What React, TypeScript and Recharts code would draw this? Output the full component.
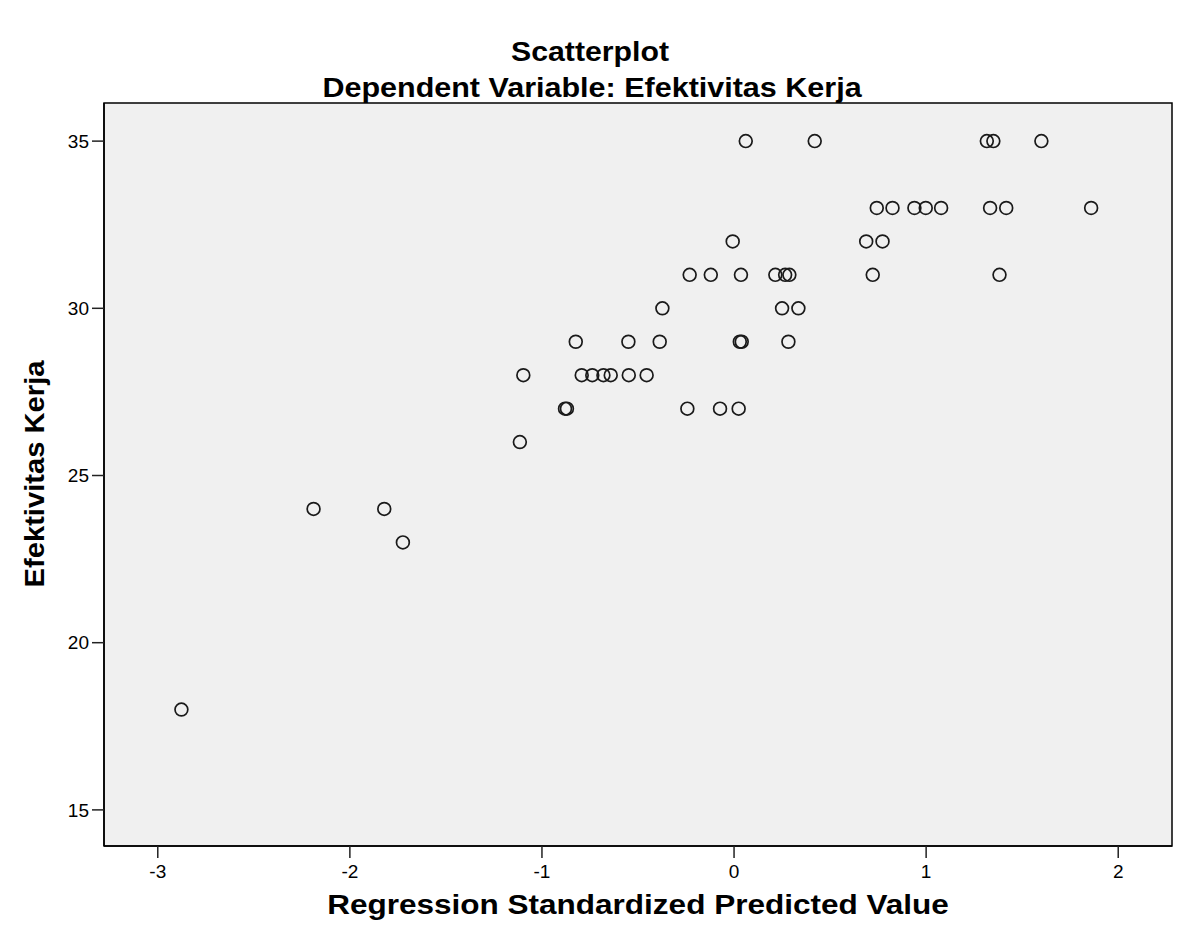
import React from 'react';
import {
  ScatterChart,
  Scatter,
  XAxis,
  YAxis,
  CartesianGrid,
  ReferenceArea,
} from 'recharts';

// values, one row of the plot at a time
const predictedValue = [
  0.061, 0.42, 1.316, 1.35, 1.6,
  0.743, 0.825, 0.939, 0.998, 1.078, 1.333, 1.417, 1.859,
  -0.007, 0.688, 0.773,
  -0.231, -0.121, 0.036, 0.215, 0.266, 0.288, 0.722, 1.382,
  -0.373, 0.25, 0.335,
  -0.824, -0.55, -0.387, 0.03, 0.04, 0.283,
  -1.097, -0.793, -0.738, -0.68, -0.642, -0.548, -0.455,
  -0.87, -0.88, -0.243, -0.073, 0.024,
  -1.115,
  -2.189, -1.821,
  -1.724,
  -2.877,
];

const efektivitasKerja = [
  35, 35, 35, 35, 35,
  33, 33, 33, 33, 33, 33, 33, 33,
  32, 32, 32,
  31, 31, 31, 31, 31, 31, 31, 31,
  30, 30, 30,
  29, 29, 29, 29, 29, 29,
  28, 28, 28, 28, 28, 28, 28,
  27, 27, 27, 27, 27,
  26,
  24, 24,
  23,
  18,
];

const xTicks = [-3, -2, -1, 0, 1, 2];
const yTicks = [15, 20, 25, 30, 35];
const xDomain = [-3.28, 2.28];
const yDomain = [13.92, 36.14];

const points = predictedValue.map((x, i) => ({ x, y: efektivitasKerja[i] }));

const font = '"Liberation Sans", Arial, sans-serif';

const Ring = (props: any) => {
  const { cx, cy } = props;
  return <circle cx={cx} cy={cy} r={6.4} fill='none' stroke='#1a1a1a' strokeWidth={1.7} />;
};

// bold text in the original is a bit wider than Liberation Sans Bold
const heading = (top: number, left: number, width: number, sx: number): React.CSSProperties => ({
  position: 'absolute',
  top,
  left,
  width,
  textAlign: 'center',
  fontSize: 27,
  lineHeight: '31px',
  fontWeight: 'bold',
  whiteSpace: 'nowrap',
  transform: `scaleX(${sx})`,
});

const App = () => {
  return (
    <div
      style={{
        position: 'absolute',
        left: 0,
        top: 0,
        width: 1189,
        height: 937,
        background: '#fff',
        fontFamily: font,
      }}
    >
      <div style={heading(37, 290, 600, 1.12)}>Scatterplot</div>
      <div style={heading(73, 292, 600, 1.13)}>Dependent Variable: Efektivitas Kerja</div>

      <ScatterChart
        width={1189}
        height={937}
        margin={{ top: 103, right: 17, bottom: 41, left: 44 }}
      >
        <CartesianGrid fill='#f0f0f0' stroke='none' horizontal={false} vertical={false} />
        <XAxis
          type='number'
          dataKey='x'
          domain={xDomain}
          ticks={xTicks}
          allowDataOverflow
          height={50}
          tickSize={12}
          tickMargin={7}
          tick={{ fill: '#000', fontSize: 19, fontFamily: font }}
          axisLine={{ stroke: '#000', strokeWidth: 1.5 }}
          tickLine={{ stroke: '#222', strokeWidth: 1.5 }}
        />
        <YAxis
          type='number'
          dataKey='y'
          domain={yDomain}
          ticks={yTicks}
          allowDataOverflow
          width={60}
          tickSize={12}
          tickMargin={3}
          tick={{ fill: '#000', fontSize: 19, fontFamily: font }}
          axisLine={{ stroke: '#000', strokeWidth: 1.5 }}
          tickLine={{ stroke: '#222', strokeWidth: 1.5 }}
        />
        <ReferenceArea
          x1={xDomain[0]}
          x2={xDomain[1]}
          y1={yDomain[0]}
          y2={yDomain[1]}
          fill='none'
          stroke='#000'
          strokeWidth={1.5}
        />
        <Scatter data={points} shape={Ring} isAnimationActive={false} />
      </ScatterChart>

      <div style={heading(890, 338, 600, 1.167)}>Regression Standardized Predicted Value</div>
      <div
        style={{
          position: 'absolute',
          left: 35,
          top: 474,
          transform: 'translate(-50%, -50%) rotate(-90deg) scaleX(1.08)',
          whiteSpace: 'nowrap',
          fontSize: 27,
          lineHeight: '31px',
          fontWeight: 'bold',
        }}
      >
        Efektivitas Kerja
      </div>
    </div>
  );
};

export default App;
